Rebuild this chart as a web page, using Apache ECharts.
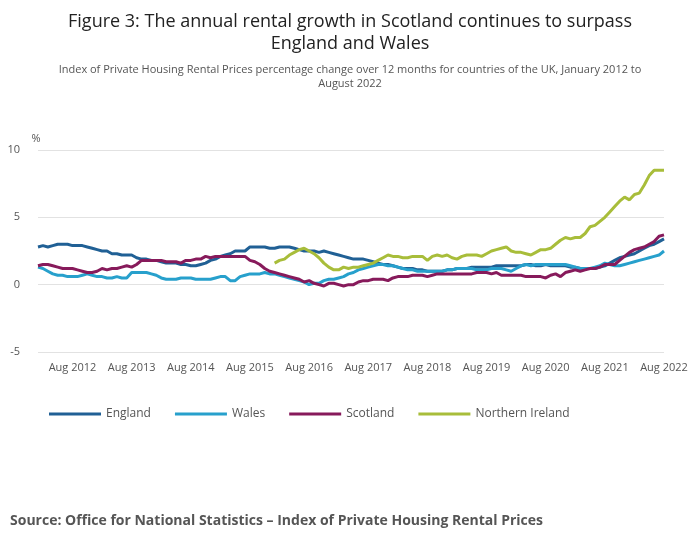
<!DOCTYPE html>
<html>
<head>
<meta charset="utf-8">
<script src="https://cdn.jsdelivr.net/npm/echarts@6/dist/echarts.min.js"></script>
<style>
html, body { margin: 0; padding: 0; background: #fff; }
#chart { width: 700px; height: 549px; }
</style>
</head>
<body>
<div id="chart"></div>
<script>
const monthNames = ['Jan','Feb','Mar','Apr','May','Jun','Jul','Aug','Sep','Oct','Nov','Dec'];
const months = [];
for (let y = 2012; y <= 2022; y++) {
    for (let m = 0; m < 12; m++) {
        if (y === 2022 && m > 7) break;
        months.push(monthNames[m] + ' ' + y);
    }
}

const england = [
    2.8,2.9,2.8,2.9,3.0,3.0,3.0,2.9,2.9,2.9,2.8,2.7,
    2.6,2.5,2.5,2.3,2.3,2.2,2.2,2.2,2.0,1.9,1.9,1.8,
    1.8,1.7,1.6,1.6,1.6,1.5,1.5,1.4,1.4,1.5,1.6,1.8,
    1.9,2.1,2.2,2.3,2.5,2.5,2.5,2.8,2.8,2.8,2.8,2.7,
    2.7,2.8,2.8,2.8,2.7,2.6,2.5,2.5,2.5,2.4,2.5,2.4,
    2.3,2.2,2.1,2.0,1.9,1.9,1.9,1.8,1.7,1.6,1.5,1.5,
    1.4,1.3,1.2,1.2,1.2,1.1,1.1,1.0,1.0,1.0,1.0,1.1,
    1.1,1.2,1.2,1.2,1.3,1.3,1.3,1.3,1.3,1.4,1.4,1.4,
    1.4,1.4,1.4,1.5,1.5,1.4,1.4,1.5,1.4,1.4,1.4,1.4,
    1.3,1.3,1.2,1.2,1.2,1.2,1.3,1.4,1.6,1.8,2.0,2.1,
    2.2,2.3,2.5,2.7,2.9,3.0,3.2,3.4
];
const wales = [
    1.3,1.2,1.0,0.8,0.7,0.7,0.6,0.6,0.6,0.7,0.8,0.7,
    0.6,0.6,0.5,0.5,0.6,0.5,0.5,0.9,0.9,0.9,0.9,0.8,
    0.7,0.5,0.4,0.4,0.4,0.5,0.5,0.5,0.4,0.4,0.4,0.4,
    0.5,0.6,0.6,0.3,0.3,0.6,0.7,0.8,0.8,0.8,0.9,0.8,
    0.8,0.7,0.6,0.5,0.4,0.3,0.2,0.0,0.1,0.1,0.3,0.4,
    0.4,0.5,0.6,0.8,0.9,1.1,1.2,1.3,1.4,1.5,1.5,1.4,
    1.4,1.3,1.2,1.1,1.1,1.0,1.0,1.0,1.0,1.0,1.0,1.1,
    1.1,1.2,1.2,1.2,1.2,1.1,1.1,1.1,1.2,1.2,1.2,1.1,
    1.0,1.2,1.4,1.5,1.4,1.5,1.5,1.5,1.5,1.5,1.5,1.5,
    1.4,1.3,1.2,1.2,1.2,1.3,1.4,1.6,1.5,1.4,1.4,1.5,
    1.6,1.7,1.8,1.9,2.0,2.1,2.2,2.5
];
const scotland = [
    1.4,1.5,1.5,1.4,1.3,1.2,1.2,1.2,1.1,1.0,0.9,0.9,
    1.0,1.2,1.1,1.2,1.2,1.3,1.4,1.3,1.5,1.8,1.8,1.8,
    1.8,1.8,1.7,1.7,1.7,1.6,1.8,1.8,1.9,1.9,2.1,2.0,
    2.1,2.1,2.1,2.1,2.1,2.1,2.1,1.8,1.7,1.5,1.2,1.0,
    0.9,0.8,0.7,0.6,0.5,0.4,0.2,0.3,0.1,0.0,-0.1,0.1,
    0.1,0.0,-0.1,0.0,0.0,0.2,0.3,0.3,0.4,0.4,0.4,0.3,
    0.5,0.6,0.6,0.6,0.7,0.7,0.7,0.6,0.7,0.8,0.8,0.8,
    0.8,0.8,0.8,0.8,0.8,0.9,0.9,0.9,0.8,0.9,0.7,0.7,
    0.7,0.7,0.7,0.6,0.6,0.6,0.6,0.5,0.7,0.8,0.6,0.9,
    1.0,1.1,1.0,1.1,1.2,1.2,1.3,1.5,1.5,1.5,1.8,2.1,
    2.4,2.6,2.7,2.8,3.0,3.2,3.6,3.7
];
// Northern Ireland series starts Jan 2016
const northernIreland = [
    null,null,null,null,null,null,null,null,null,null,null,null,
    null,null,null,null,null,null,null,null,null,null,null,null,
    null,null,null,null,null,null,null,null,null,null,null,null,
    null,null,null,null,null,null,null,null,null,null,null,null,
    1.6,1.8,1.9,2.2,2.4,2.6,2.7,2.5,2.3,2.0,1.6,1.3,
    1.1,1.1,1.3,1.2,1.3,1.3,1.4,1.5,1.6,1.8,2.0,2.2,
    2.1,2.1,2.0,2.0,2.1,2.1,2.1,1.8,2.1,2.2,2.1,2.2,
    2.0,1.9,2.1,2.2,2.2,2.2,2.1,2.3,2.5,2.6,2.7,2.8,
    2.5,2.4,2.4,2.3,2.2,2.4,2.6,2.6,2.7,3.0,3.3,3.5,
    3.4,3.5,3.5,3.8,4.3,4.4,4.7,5.0,5.4,5.8,6.2,6.5,
    6.3,6.7,6.8,7.4,8.1,8.5,8.5,8.5
];
const yTicks = { min: -5, max: 10, interval: 5 };

const seriesDefs = [
    { name: 'England', data: england, color: '#206095' },
    { name: 'Wales', data: wales, color: '#27a0cc' },
    { name: 'Scotland', data: scotland, color: '#871a5b' },
    { name: 'Northern Ireland', data: northernIreland, color: '#a8bd3a' }
];

const chart = echarts.init(document.getElementById('chart'));
chart.setOption({
    animation: false,
    textStyle: { fontFamily: 'Open Sans' },
    title: {
        text: 'Figure 3: The annual rental growth in Scotland continues to surpass\nEngland and Wales',
        subtext: 'Index of Private Housing Rental Prices percentage change over 12 months for countries of the UK, January 2012 to\nAugust 2022',
        left: 'center',
        top: 6,
        itemGap: 8,
        textStyle: { fontSize: 18, fontWeight: 'normal', color: '#222', lineHeight: 22 },
        subtextStyle: { fontSize: 11, color: '#555', lineHeight: 14 }
    },
    legend: {
        bottom: 124,
        left: 44,
        itemWidth: 52,
        itemHeight: 3,
        itemGap: 24,
        icon: 'rect',
        textStyle: { fontSize: 12, color: '#555' },
        data: seriesDefs.map(s => s.name)
    },
    grid: { left: 38, right: 36, top: 150, bottom: 197 },
    xAxis: {
        type: 'category',
        data: months,
        boundaryGap: false,
        axisLine: { show: false },
        axisTick: { show: false },
        axisLabel: {
            interval: (i) => i % 12 === 7,
            color: '#555',
            fontSize: 11,
            margin: 10
        }
    },
    yAxis: {
        type: 'value',
        min: yTicks.min,
        max: yTicks.max,
        interval: yTicks.interval,
        name: '%',
        nameGap: 6,
        nameTextStyle: { color: '#555', fontSize: 11, align: 'center', padding: [0, 0, 0, -4] },
        axisLabel: { color: '#555', fontSize: 11, margin: 18 },
        splitLine: { lineStyle: { color: '#e2e2e2' } }
    },
    series: seriesDefs.map(s => ({
        name: s.name,
        type: 'line',
        data: s.data,
        symbol: 'none',
        color: s.color,
        lineStyle: { width: 3, color: s.color }
    })),
    graphic: [{
        type: 'text',
        left: 10,
        top: 514,
        style: {
            text: 'Source: Office for National Statistics \u2013 Index of Private Housing Rental Prices',
            font: 'bold 14px "Open Sans"',
            fill: '#555'
        }
    }]
});
</script>
</body>
</html>
